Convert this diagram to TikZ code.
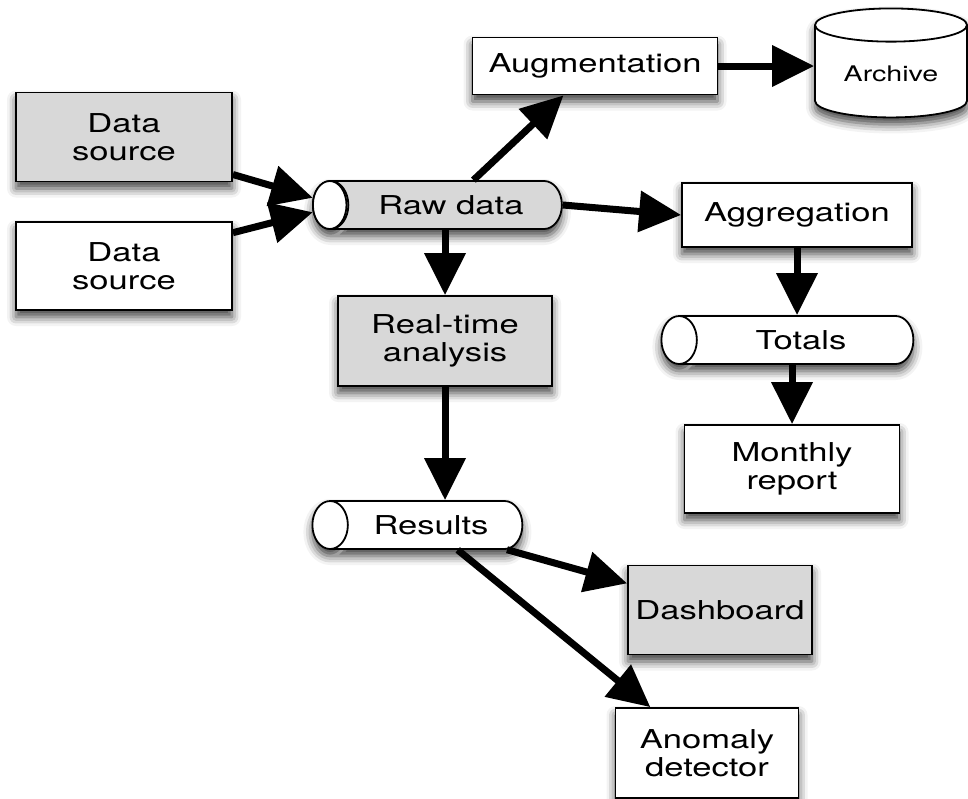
\documentclass[tikz,border=0pt]{standalone}
\usepackage{fontspec}
\setmainfont[FakeStretch=1.33]{TeX Gyre Heros}
\usetikzlibrary{positioning}
\usetikzlibrary{arrows.meta}
\usetikzlibrary{shapes.geometric}
\usetikzlibrary{shadows.blur}
\definecolor{boxgray}{RGB}{216,216,216}

\begin{document}
\begin{tikzpicture}[
  x=1pt, y=-1pt,
  shade/.style = {blur shadow={shadow xshift=0pt, shadow yshift=-7pt,
    shadow blur radius=9pt, shadow opacity=75}},
  box/.style = {draw, line width=1.8pt, fill=white, align=center,
    inner sep=3pt, font=\fontsize{26}{28}\selectfont, shade},
  grey/.style = {fill=boxgray},
  tube/.style = {box, cylinder, shape border rotate=180, aspect=1.4,
    minimum width=48},
  line/.style = {line width=7pt, ->},
  >={Triangle[length=42pt,width=40pt]},
]

  \useasboundingbox (0,0) rectangle (968,798);

  % sources
  \node[box,grey,minimum width=216,minimum height=89] (src1) at (124,137) {Data\\source};
  \node[box,minimum width=216,minimum height=88] (src2) at (124,266) {Data\\source};

  % stores
  \node[tube,grey,minimum height=249] (raw) at (451,205) {Raw data};
  \node[tube,minimum height=252] (totals) at (801,340) {Totals};
  \node[tube,minimum height=210] (results) at (431,525) {Results};
  \node[tube,shape border rotate=90,aspect=0.33,minimum height=109,minimum width=152,
    font=\fontsize{21.5}{24}\selectfont] (archive) at (891,74) {Archive};
  % white end of the raw data tube
  \draw[line width=1.8pt,fill=white] ([xshift=17.7pt]raw.west) ellipse (16.8pt and 24pt);

  % processing
  \node[box,minimum width=245,minimum height=57] (augment) at (595,66) {Augmentation};
  \node[box,minimum width=230,minimum height=64] (aggreg) at (797,215) {Aggregation};
  \node[box,grey,minimum width=214,minimum height=90] (realtime) at (445,341) {Real-time\\analysis};
  \node[box,minimum width=215,minimum height=88] (monthly) at (792,469) {Monthly\\report};
  \node[box,grey,minimum width=184,minimum height=89] (dash) at (720,610) {Dashboard};
  \node[box,minimum width=183,minimum height=90] (anomaly) at (707,753) {Anomaly\\detector};

  \draw[line] (src1.-19) -- (raw.177);
  \draw[line] (src2.17) -- (raw.183);
  \draw[line] (raw.48) -- (augment.223);
  \draw[line] (augment.east) -- (augment.east -| archive.west);
  \draw[line] (raw.east) -- (aggreg.west);
  \draw[line] (realtime.north |- raw.south) -- (realtime.north);
  \draw[line] (realtime.south) -- (realtime.south |- results.north);
  \draw[line] (aggreg.south) -- (aggreg.south |- totals.north);
  \draw[line] (monthly.north |- totals.south) -- (monthly.north);
  \draw[line] (results.-18) -- (dash.164);
  \draw[line] (results.-43) -- (anomaly.141);

\end{tikzpicture}
\end{document}
